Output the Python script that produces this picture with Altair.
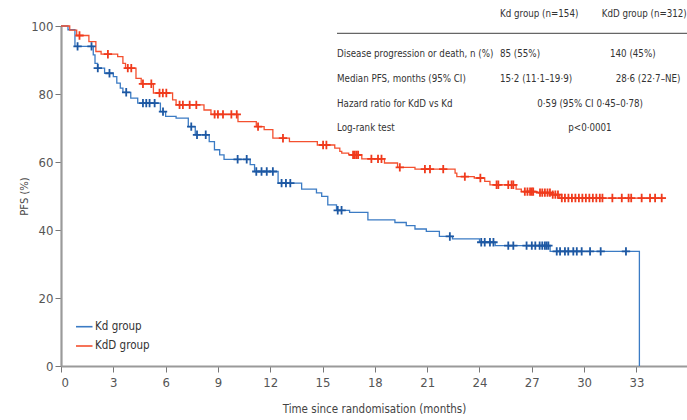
import altair as alt
import pandas as pd

# Kaplan-Meier step points (months, PFS %) for each arm
kd_t = [0, 0.4, 0.8, 1.85, 1.95, 2.1, 2.5, 3.0, 3.2, 3.4, 3.55, 4.0, 4.4, 5.7, 6.0, 6.6,
        7.3, 7.7, 8.5, 8.8, 9.1, 9.35, 10.85, 11.1, 12.45, 13.8, 14.65, 14.95, 15.3, 15.8,
        16.55, 17.6, 19.15, 19.8, 20.3, 20.95, 21.7, 22.45, 24.0, 24.9, 28.05, 33.17]
kd_s = [100, 98.9, 94.0, 91.5, 89.0, 87.6, 86.1, 85.1, 83.2, 81.7, 80.5, 78.8, 77.3, 74.8,
        73.4, 72.9, 70.4, 68.0, 66.0, 63.6, 62.1, 60.8, 59.2, 57.2, 53.8, 52.0, 50.9, 49.9,
        47.4, 45.8, 45.2, 43.0, 42.2, 41.3, 40.3, 39.6, 38.1, 37.4, 36.4, 35.4, 33.7, 0]
kd_cens = [0.95, 1.75, 2.11, 2.78, 3.74, 4.7, 4.89, 5.08, 5.37, 5.85, 7.47, 7.8, 8.3,
           10.13, 10.65, 11.2, 11.5, 11.8, 12.15, 12.65, 12.9, 13.15, 15.87, 16.09, 22.3,
           24.1, 24.3, 24.6, 24.8, 25.65, 25.94, 26.7, 27.0, 27.2, 27.45, 27.6, 27.75, 27.85,
           27.95, 28.43, 28.62, 28.9, 29.09, 29.38, 29.58, 29.86, 30.34, 30.95, 32.4]

kdd_t = [0, 0.5, 0.9, 1.6, 2.0, 2.3, 3.25, 3.55, 3.7, 4.3, 4.6, 5.3, 6.4, 6.6, 8.2, 8.6,
         10.15, 11.2, 11.65, 12.15, 13.1, 14.7, 15.7, 15.99, 16.1, 16.5, 17.25, 18.55, 19.3,
         20.3, 22.6, 22.7, 23.7, 24.3, 24.6, 26.1, 26.4, 27.3, 28.12, 28.6, 34.7]
kdd_s = [100, 98.8, 97.2, 95.4, 92.5, 91.7, 91.0, 89.0, 87.6, 84.6, 83.0, 80.3, 78.3, 76.8,
         75.3, 74.0, 71.9, 70.4, 69.5, 67.0, 66.0, 65.0, 64.1, 63.1, 62.6, 62.1, 60.9, 59.7,
         58.4, 57.9, 56.7, 55.7, 55.3, 54.3, 53.3, 52.0, 51.3, 51.0, 50.4, 49.4, 49.4]
kdd_cens = [1.06, 2.69, 3.83, 4.03, 4.7, 5.18, 5.65, 5.84, 6.04, 6.8, 6.99, 7.38, 7.76,
            8.81, 9.0, 9.29, 9.77, 10.08, 11.3, 12.73, 15.03, 15.22, 16.75, 16.85, 16.95,
            17.04, 17.8, 18.18, 18.38, 19.43, 20.87, 21.16, 21.92, 23.16, 24.05, 24.98,
            25.08, 25.65, 25.84, 25.94, 26.6, 26.75, 26.9, 27.0, 27.08, 27.47, 27.6, 27.75,
            27.9, 28.04, 28.2, 28.35, 28.5, 28.72, 28.9, 29.1, 29.3, 29.5, 29.7, 29.9, 30.1,
            30.3, 30.5, 30.7, 30.9, 31.05, 31.62, 32.16, 32.55, 32.7, 33.3, 33.78, 34.07, 34.45]

x_ticks = [0, 3, 6, 9, 12, 15, 18, 21, 24, 27, 30, 33]
y_ticks = [0, 20, 40, 60, 80, 100]

FONT = "Liberation Sans Narrow, DejaVu Sans Condensed, Liberation Sans, sans-serif"
KD_LINE, KD_MARK = "#3b7bc4", "#1d58a3"
KDD_LINE, KDD_MARK = "#f4502f", "#f03a1c"


def surv_at(times, surv, t):
    s = surv[0]
    for ti, si in zip(times, surv):
        if ti <= t:
            s = si
    return s


curve = pd.concat([
    pd.DataFrame({"t": kd_t, "s": kd_s, "g": "Kd"}),
    pd.DataFrame({"t": kdd_t, "s": kdd_s, "g": "KdD"}),
])
cens = pd.concat([
    pd.DataFrame({"t": kd_cens, "s": [surv_at(kd_t, kd_s, c) for c in kd_cens], "g": "Kd"}),
    pd.DataFrame({"t": kdd_cens, "s": [surv_at(kdd_t, kdd_s, c) for c in kdd_cens], "g": "KdD"}),
])

xs = alt.Scale(domain=[0, 35.9], nice=False)
ys = alt.Scale(domain=[0, 100], nice=False)

x_axis = alt.Axis(values=x_ticks, title="Time since randomisation (months)", grid=False,
                  tickSize=6, labelPadding=4, titlePadding=14)
y_axis = alt.Axis(values=y_ticks, title="PFS (%)", grid=False, tickSize=6,
                  labelPadding=2, titlePadding=1)

lines = alt.Chart(curve).mark_line(interpolate="step-after", strokeWidth=1.3, clip=False).encode(
    x=alt.X("t:Q", scale=xs, axis=x_axis),
    y=alt.Y("s:Q", scale=ys, axis=y_axis),
    color=alt.Color("g:N", scale=alt.Scale(domain=["Kd", "KdD"], range=[KD_LINE, KDD_LINE]),
                    legend=None),
    detail="g:N",
)

marks = alt.Chart(cens).mark_point(
    shape="M-1,0H1M0,-1V1", filled=False, size=70, strokeWidth=1.8, opacity=1
).encode(
    x=alt.X("t:Q", scale=xs),
    y=alt.Y("s:Q", scale=ys),
    stroke=alt.Stroke("g:N", scale=alt.Scale(domain=["Kd", "KdD"], range=[KD_MARK, KDD_MARK]),
                      legend=None),
)

# Summary table in the top-right corner
table = pd.DataFrame({
    "px": [439, 540.7, 276, 439, 549, 276, 439, 554.7, 276, 476.3, 276, 507.3],
    "py": [-12, -12, 28.3, 28.3, 28.3, 53, 53, 53, 78, 78, 101.7, 101.7],
    "txt": ["Kd group (n=154)", "KdD group (n=312)",
            "Disease progression or death, n (%)", "85 (55%)", "140 (45%)",
            "Median PFS, months (95% CI)", "15·2 (11·1–19·9)", "28·6 (22·7–NE)",
            "Hazard ratio for KdD vs Kd", "0·59 (95% CI 0·45–0·78)",
            "Log-rank test", "p<0·0001"],
})
table_text = alt.Chart(table).mark_text(
    align="left", baseline="middle", font=FONT, fontSize=9.7, color="#333"
).encode(
    x=alt.X("px:Q", scale=None),
    y=alt.Y("py:Q", scale=None),
    text="txt:N",
)
table_rule = alt.Chart(pd.DataFrame({"a": [0]})).mark_rule(color="#666", strokeWidth=1.3).encode(
    x=alt.value(276), x2=alt.value(640), y=alt.value(7.3)
)

# Legend drawn in the lower-left of the plot area
leg = pd.DataFrame({"lbl": ["Kd group", "KdD group"], "py": [300.7, 320],
                    "col": [KD_LINE, KDD_LINE]})
leg_lines = alt.Chart(leg).mark_rule(strokeWidth=1.6).encode(
    x=alt.value(15), x2=alt.value(31.5),
    y=alt.Y("py:Q", scale=None),
    color=alt.Color("col:N", scale=None),
)
leg_text = alt.Chart(leg).mark_text(
    align="left", baseline="middle", font=FONT, fontSize=11.5, color="#333"
).encode(
    x=alt.value(34),
    y=alt.Y("py:Q", scale=None),
    text="lbl:N",
)

chart = alt.layer(lines, marks, table_rule, table_text, leg_lines, leg_text).properties(
    width=626, height=340,
    autosize=alt.AutoSizeParams(type="none"),
    padding={"left": 61, "top": 26, "right": 0, "bottom": 54},
).configure_view(stroke=None).configure_axis(
    domainColor="#9a9a9a", domainWidth=2.2, tickColor="#777", tickWidth=1,
    labelColor="#555", labelFont=FONT, labelFontSize=13,
    titleColor="#444", titleFont=FONT, titleFontSize=11.5, titleFontWeight="normal",
).configure_axisY(titleFont="DejaVu Sans", titleFontSize=10)

chart.save("out.html", embed_options={"renderer": "svg", "actions": False})
